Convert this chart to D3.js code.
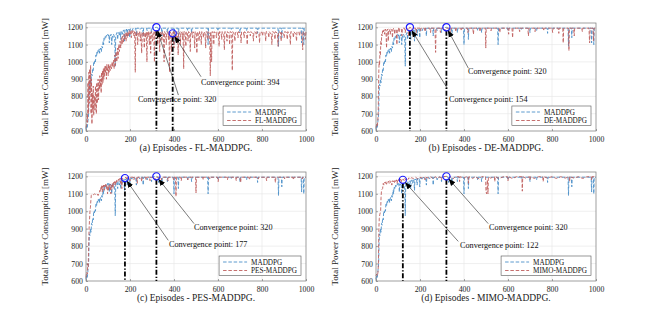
<!DOCTYPE html>
<html>
<head>
<meta charset="utf-8">
<script src="https://cdn.jsdelivr.net/npm/d3@7"></script>
<style>
  body { margin: 0; background: #fff; }
  text { font-family: "Liberation Serif", "Times New Roman", serif; }
</style>
</head>
<body>
<svg id="chart" width="659" height="315"></svg>
<script>
// episodes / total power [mW]
const xTicks = [0, 200, 400, 600, 800, 1000]
const yTicks = [600, 700, 800, 900, 1000, 1100, 1200]

const maddpg = [
  [0,610],[3,630],[6,620],[9,660],[12,700],[14,820],[16,870],[18,860],[20,900],[23,880],[25,930],[28,920],[30,960],[33,950],[35,1000],[38,990],[40,1010],[43,1000],[45,1040],[48,1030],[50,1060],[53,1050],[55,1070],[58,1060],[60,1075],[62,1050],[64,1070],[67,1080],[70,1060],[72,1090],[75,1080],[78,1120],[80,1100],[82,1140],[85,1130],[88,1150],[90,1140],[93,1155],[96,1150],[99,1160],[102,1150],[104,1160],[106,1110],[108,1155],[111,1150],[114,1160],[117,1100],[119,1150],[122,1140],[125,1160],[128,1150],[131,1120],[133,975],[135,1150],[138,1160],[141,1170],[144,1130],[146,1165],[149,1170],[152,1150],[155,1175],[158,1130],[160,1175],[163,1180],[166,1160],[169,1180],[172,1185],[175,1120],[177,1185],[180,1180],[184,1190],[187,1150],[189,1190],[193,1185],[196,1190],[199,1140],[201,1190],[205,1192],[210,1180],[214,1195],[220,1190],[226,1195],[229,1150],[231,1195],[240,1195],[245,1185],[250,1195],[258,1195],[260,1150],[262,1195],[275,1195],[278,1180],[280,1195],[295,1195],[298,1170],[300,1195],[320,1200],[328,1195],[330,1165],[332,1195],[343,1195],[345,1150],[347,1195],[368,1195],[370,1170],[372,1195],[398,1195],[400,1100],[402,1195],[418,1195],[420,1130],[422,1195],[460,1195],[462,1180],[464,1195],[478,1195],[480,1170],[482,1195],[553,1195],[555,1100],[557,1195],[598,1195],[600,1180],[602,1195],[658,1195],[660,1185],[662,1195],[698,1195],[700,1170],[702,1195],[728,1195],[730,1180],[732,1195],[778,1195],[780,1165],[782,1195],[873,1195],[875,1090],[877,1195],[888,1195],[890,1140],[892,1195],[978,1195],[980,1110],[982,1195],[988,1195],[990,1100],[992,1195],[1000,1195]
]

const flMaddpg = [
  [0,620],[3,640],[5,700],[7,650],[9,880],[11,700],[13,940],[15,760],[17,960],[19,820],[21,980],[23,700],[25,900],[27,640],[29,820],[31,720],[33,860],[35,690],[37,760],[39,800],[41,720],[43,860],[45,760],[47,700],[49,880],[51,760],[53,820],[55,900],[57,780],[59,880],[61,840],[63,920],[65,850],[67,900],[69,820],[71,940],[73,870],[75,950],[77,880],[79,960],[81,900],[83,970],[85,920],[87,975],[89,940],[91,980],[93,900],[95,985],[97,950],[99,970],[101,920],[103,990],[105,940],[107,975],[110,950],[113,985],[116,960],[119,1000],[122,970],[125,1010],[128,960],[131,1040],[134,980],[137,1060],[140,1000],[143,1080],[146,1020],[149,1100],[152,1060],[155,1120],[158,1080],[161,1140],[164,1100],[167,1150],[170,1110],[173,1160],[176,1130],[179,1165],[182,1120],[185,1170],[188,1140],[191,1175],[194,1150],[197,1180],[200,1160],[203,1180],[206,1140],[209,1185],[212,1170],[215,1180],[218,1150],[221,1175],[224,940],[226,1170],[229,1150],[232,1175],[235,1100],[238,1170],[241,1160],[244,1175],[247,1120],[250,1170],[253,1050],[256,1170],[259,1160],[262,1175],[265,1080],[268,1170],[271,1140],[274,1175],[277,1000],[279,1170],[282,1150],[285,1175],[288,1100],[291,1170],[294,1050],[296,1175],[299,1160],[302,1120],[305,1175],[308,1170],[311,1000],[313,1175],[316,1150],[320,1180],
  [323,1170],[326,1100],[328,1175],[332,1170],[335,1060],[337,1175],[342,1165],[345,1120],[347,1175],[352,1170],[355,1000],[357,1175],[362,1160],[365,1100],[367,1175],[372,1170],[375,1130],[377,1175],[380,940],[382,1175],[386,1160],[389,1060],[391,1170],[394,1165],[397,1175],[400,1080],[402,1175],[406,1170],[409,1120],[411,1175],[416,1160],[419,1040],[421,1175],[426,1170],[429,1100],[431,1175],[436,1165],[439,1130],[441,1175],[444,960],[446,1175],[451,1170],[454,1090],[456,1175],[461,1165],[464,1120],[466,1175],[471,1170],[474,1060],[476,1175],[481,1170],[484,1140],[486,1175],[491,1165],[494,1080],[496,1175],[501,1170],[504,1050],[506,1175],[511,1160],[514,1120],[516,1175],[521,1170],[524,1100],[526,1175],[531,1170],[534,1140],[536,1175],[541,1165],[544,1080],[546,1175],[551,1170],[554,1130],[556,1175],[562,1160],[565,920],[567,1175],[571,1000],[573,1175],[578,1170],[581,1100],[583,1175],[590,1165],[593,1140],[595,1175],[602,1170],[605,1090],[607,1175],[614,1170],[617,1130],[619,1175],[626,1160],[629,1070],[631,1175],[638,1170],[641,1120],[643,1175],[650,1165],[653,1100],[655,1175],[662,1170],[665,950],[667,1175],[674,1160],[677,1120],[679,1175],[688,1170],[691,1140],[693,1175],[702,1165],[705,1110],[707,1175],[716,1170],[719,1140],[721,1175],[730,1160],[733,1100],[735,1175],[744,1170],[747,1150],[749,1175],[758,1165],[761,1120],[763,1175],[772,1170],[775,1140],[777,1175],[786,1160],[789,1110],[791,1175],[800,1170],[803,1150],[805,1175],[814,1165],[817,1120],[819,1175],[828,1170],[831,1140],[833,1175],[842,1160],[845,1100],[847,1175],[856,1170],[859,1130],[861,1175],[870,1165],[873,1090],[875,1175],[884,1170],[887,1120],[889,1175],[898,1160],[901,1140],[903,1175],[912,1170],[915,1130],[917,1175],[926,1165],[929,1100],[931,1175],[940,1170],[943,1140],[945,1175],[954,1160],[957,1120],[959,1175],[968,1170],[971,1150],[973,1175],[982,1165],[985,1070],[987,1175],[994,1170],[997,1130],[1000,1175]
]

const deMaddpg = [
  [0,620],[3,640],[6,630],[8,660],[10,700],[12,900],[14,1000],[16,980],[18,1060],[20,1040],[22,1120],[24,1100],[26,1160],[28,1150],[30,1180],[33,1170],[36,1185],[39,1160],[42,1190],[45,1180],[48,1080],[50,1185],[53,1190],[56,1120],[58,1190],[62,1185],[65,1160],[67,1190],[72,1185],[75,1140],[77,1190],[82,1195],[85,1160],[87,1190],[92,1185],[95,1100],[97,1190],[102,1195],[105,1170],[107,1195],[115,1190],[118,1150],[120,1195],[130,1195],[133,1170],[135,1195],[145,1190],[148,1150],[150,1195],[154,1200],[160,1195],[163,1180],[165,1195],[180,1195],[183,1170],[185,1195],[200,1195],[203,1180],[205,1195],[220,1195],[223,1175],[225,1195],[245,1195],[248,1170],[250,1195],[268,1195],[271,1055],[273,1195],[290,1195],[293,1170],[295,1195],[310,1195],[313,1180],[315,1195],[335,1195],[338,1170],[340,1195],[360,1195],[363,1175],[365,1195],[385,1195],[388,1180],[390,1195],[415,1195],[418,1170],[420,1195],[440,1195],[443,1160],[445,1195],[470,1195],[473,1175],[475,1195],[497,1195],[499,1080],[501,1195],[520,1195],[523,1180],[525,1195],[560,1195],[563,1170],[565,1195],[600,1195],[603,1160],[605,1195],[618,1195],[621,1140],[623,1195],[650,1195],[653,1175],[655,1195],[690,1195],[693,1150],[695,1195],[720,1195],[723,1175],[725,1195],[760,1195],[763,1180],[765,1195],[800,1195],[803,1170],[805,1195],[828,1195],[831,1165],[833,1195],[849,1195],[851,1110],[853,1195],[875,1195],[877,1065],[879,1195],[898,1195],[901,1150],[903,1195],[935,1195],[938,1175],[940,1195],[968,1195],[971,1110],[973,1195],[986,1195],[989,1120],[991,1195],[1000,1195]
]

const pesMaddpg = [
  [0,620],[3,650],[6,640],[8,700],[10,680],[12,800],[14,900],[16,950],[18,1000],[20,1020],[22,1060],[24,1090],[26,1095],[30,1100],[35,1095],[40,1100],[45,1095],[50,1100],[55,1090],[60,1105],[63,1120],[66,1110],[68,1140],[70,1130],[72,1150],[74,1110],[76,1145],[78,1130],[80,1150],[83,1120],[85,1150],[88,1140],[90,1155],[93,1130],[95,1150],[98,1100],[100,1145],[103,1120],[105,1150],[108,1140],[110,1155],[113,1100],[115,1150],[118,1140],[120,1160],[123,1130],[125,1165],[128,1150],[130,1170],[133,1150],[135,1175],[138,1165],[140,1180],[145,1170],[148,1185],[152,1175],[155,1190],[158,1160],[160,1190],[163,1130],[165,1190],[170,1185],[174,1190],[177,1190],[182,1195],[186,1180],[188,1195],[198,1195],[201,1175],[203,1195],[215,1195],[218,1180],[220,1195],[230,1195],[233,1160],[235,1195],[250,1195],[253,1170],[255,1195],[270,1195],[273,1180],[275,1195],[288,1195],[291,1175],[293,1195],[310,1195],[313,1180],[315,1195],[340,1195],[343,1180],[345,1195],[370,1195],[373,1175],[375,1195],[395,1195],[398,1180],[400,1195],[407,1195],[409,1085],[411,1195],[430,1195],[433,1175],[435,1195],[460,1195],[463,1180],[465,1195],[498,1195],[500,1105],[502,1195],[530,1195],[533,1180],[535,1195],[560,1195],[563,1185],[565,1195],[598,1195],[601,1170],[603,1195],[640,1195],[643,1180],[645,1195],[680,1195],[683,1175],[685,1195],[700,1195],[703,1165],[705,1195],[740,1195],[743,1180],[745,1195],[780,1195],[783,1185],[785,1195],[818,1195],[821,1175],[823,1195],[858,1195],[861,1165],[863,1195],[900,1195],[903,1185],[905,1195],[940,1195],[943,1180],[945,1195],[980,1195],[983,1185],[985,1195],[1000,1195]
]

const mimoMaddpg = [
  [0,630],[3,640],[6,630],[9,650],[11,700],[13,900],[15,960],[17,980],[19,990],[21,1000],[23,1080],[25,1120],[27,1125],[30,1130],[33,1160],[36,1150],[39,1165],[42,1160],[45,1170],[48,1155],[51,1170],[54,1165],[57,1172],[60,1160],[63,1175],[66,1165],[69,1170],[72,1150],[75,1175],[78,1168],[81,1178],[84,1165],[87,1180],[90,1170],[93,1180],[96,1160],[99,1182],[102,1175],[105,1185],[108,1170],[111,1185],[114,1165],[117,1185],[120,1180],[122,1181],[125,1185],[128,1175],[131,1188],[135,1180],[140,1190],[145,1182],[150,1192],[155,1185],[160,1192],[170,1188],[180,1195],[190,1185],[200,1195],[210,1190],[220,1195],[223,1180],[225,1195],[240,1190],[250,1198],[260,1185],[270,1198],[280,1188],[290,1198],[298,1180],[300,1198],[320,1200],[330,1190],[340,1198],[350,1185],[360,1198],[378,1198],[380,1170],[382,1198],[400,1190],[410,1198],[418,1198],[420,1160],[422,1198],[440,1188],[450,1198],[470,1185],[480,1198],[498,1198],[500,1110],[503,1100],[506,1180],[509,1100],[511,1198],[520,1190],[538,1198],[540,1170],[542,1198],[560,1188],[580,1198],[598,1198],[600,1175],[602,1198],[620,1188],[640,1198],[663,1198],[665,1115],[667,1198],[680,1190],[698,1198],[700,1180],[702,1198],[720,1188],[740,1198],[758,1198],[760,1170],[762,1198],[780,1190],[800,1198],[820,1188],[840,1198],[860,1190],[878,1198],[880,1170],[882,1198],[900,1190],[920,1198],[940,1188],[960,1198],[978,1198],[980,1180],[982,1198],[1000,1198]
]

// convergence points [episode, power]
const convA = [[320, 1200], [394, 1165]]
const convB = [[154, 1200], [320, 1200]]
const convC = [[177, 1190], [320, 1200]]
const convD = [[122, 1180], [320, 1200]]

// where each callout's arrow tail and text sit, in data units
const calloutA = [{ tail: [420, 808], text: [236, 785] }, { tail: [523, 914], text: [523, 885] }]
const calloutB = [{ tail: [324, 847], text: [332, 787] }, { tail: [420, 963], text: [418, 947] }]
const calloutC = [{ tail: [374, 833], text: [377, 809] }, { tail: [491, 929], text: [491, 910] }]
const calloutD = [{ tail: [374, 827], text: [382, 807] }, { tail: [510, 929], text: [514, 910] }]

const blue = '#4a8ec8'
const red = '#c0605f'
const dash = '3.5,1.8'

const panels = [
  { title: '(a) Episodes - FL-MADDPG.', name: 'FL-MADDPG', data: flMaddpg, conv: convA, callout: calloutA, x: 86, y: 23, w: 220, h: 108 },
  { title: '(b) Episodes - DE-MADDPG.', name: 'DE-MADDPG', data: deMaddpg, conv: convB, callout: calloutB, x: 376, y: 23, w: 220, h: 108 },
  { title: '(c) Episodes - PES-MADDPG.', name: 'PES-MADDPG', data: pesMaddpg, conv: convC, callout: calloutC, x: 86, y: 172, w: 220, h: 109 },
  { title: '(d) Episodes - MIMO-MADDPG.', name: 'MIMO-MADDPG', data: mimoMaddpg, conv: convD, callout: calloutD, x: 376, y: 172, w: 220, h: 109 }
]

const svg = d3.select('#chart')

svg.append('defs').append('marker')
  .attr('id', 'head')
  .attr('viewBox', '0 0 10 10')
  .attr('refX', 9).attr('refY', 5)
  .attr('markerWidth', 7).attr('markerHeight', 7)
  .attr('markerUnits', 'userSpaceOnUse')
  .attr('orient', 'auto')
  .append('path')
  .attr('d', 'M0,1 L10,5 L0,9 Z')
  .attr('fill', '#000')

panels.forEach(p => {
  const x = d3.scaleLinear().domain([0, 1000]).range([0, p.w])
  const y = d3.scaleLinear().domain([600, 1225]).range([p.h, 0])
  const g = svg.append('g').attr('transform', `translate(${p.x},${p.y})`)

  // grid
  g.append('g').selectAll('line').data(xTicks.slice(1, -1)).join('line')
    .attr('x1', d => x(d)).attr('x2', d => x(d)).attr('y1', 0).attr('y2', p.h)
    .attr('stroke', '#e4e4e4').attr('stroke-width', 0.6)
  g.append('g').selectAll('line').data(yTicks.slice(1)).join('line')
    .attr('y1', d => y(d)).attr('y2', d => y(d)).attr('x1', 0).attr('x2', p.w)
    .attr('stroke', '#e4e4e4').attr('stroke-width', 0.6)

  const line = d3.line().x(d => x(d[0])).y(d => y(d[1]))

  g.append('path').datum(maddpg)
    .attr('d', line).attr('fill', 'none')
    .attr('stroke', blue).attr('stroke-width', 0.9).attr('stroke-dasharray', dash)
  g.append('path').datum(p.data)
    .attr('d', line).attr('fill', 'none')
    .attr('stroke', red).attr('stroke-width', 0.9).attr('stroke-dasharray', dash)

  // axes
  const xAxis = g.append('g').attr('transform', `translate(0,${p.h})`)
    .call(d3.axisBottom(x).tickValues(xTicks).tickFormat(d3.format('d')).tickSize(-2).tickPadding(5))
  const yAxis = g.append('g')
    .call(d3.axisLeft(y).tickValues(yTicks).tickFormat(d3.format('d')).tickSize(-2).tickPadding(3))
  ;[xAxis, yAxis].forEach(a => {
    a.attr('font-family', null)
    a.select('.domain').remove()
    a.selectAll('line').attr('stroke', '#555').attr('stroke-width', 0.5)
    a.selectAll('text').style('font-family', '"Liberation Serif", serif')
      .attr('font-size', 7.8).attr('fill', '#222')
  })

  g.append('rect').attr('width', p.w).attr('height', p.h)
    .attr('fill', 'none').attr('stroke', '#777').attr('stroke-width', 0.7)

  // convergence markers
  p.conv.forEach((c, i) => {
    const cx = x(c[0])
    const cy = y(c[1])
    g.append('line')
      .attr('x1', cx).attr('x2', cx).attr('y1', cy + 3.5).attr('y2', p.h)
      .attr('stroke', '#000').attr('stroke-width', 1.8)
      .attr('stroke-dasharray', '5,1.8,1.4,1.8')
    g.append('circle').attr('cx', cx).attr('cy', cy).attr('r', 3.6)
      .attr('fill', 'none').attr('stroke', '#1a1aff').attr('stroke-width', 1.2)

    const co = p.callout[i]
    const tx = x(co.tail[0])
    const ty = y(co.tail[1])
    const dx = cx - tx
    const dy = cy - ty
    const len = Math.hypot(dx, dy)
    const k = (len - 4) / len
    g.append('line')
      .attr('x1', tx).attr('y1', ty)
      .attr('x2', tx + dx * k).attr('y2', ty + dy * k)
      .attr('stroke', '#222').attr('stroke-width', 0.6)
      .attr('marker-end', 'url(#head)')
    g.append('text')
      .attr('x', x(co.text[0])).attr('y', y(co.text[1])).attr('dy', '0.35em')
      .attr('font-size', 8.2).attr('fill', '#111')
      .text(`Convergence point: ${c[0]}`)
  })

  // legend
  const lg = g.append('g')
  const names = ['MADDPG', p.name]
  const cols = [blue, red]
  const texts = lg.selectAll('text').data(names).join('text')
    .attr('y', (d, i) => 6 + i * 8.5).attr('dy', '0.35em')
    .attr('font-size', 7.2).attr('fill', '#111')
    .text(d => d)
  const tw = d3.max(texts.nodes(), n => n.getComputedTextLength())
  const bw = 4 + 24 + 4 + tw + 4
  const bx = p.w - 5 - bw
  const by = p.h - 25
  lg.attr('transform', `translate(${bx},${by})`)
  lg.insert('rect', 'text').attr('width', bw).attr('height', 19.5)
    .attr('fill', '#fff').attr('stroke', '#555').attr('stroke-width', 0.6)
  texts.attr('x', 32)
  lg.selectAll('line.key').data(cols).join('line').attr('class', 'key')
    .attr('x1', 4).attr('x2', 28)
    .attr('y1', (d, i) => 6 + i * 8.5).attr('y2', (d, i) => 6 + i * 8.5)
    .attr('stroke', d => d).attr('stroke-width', 0.9).attr('stroke-dasharray', dash)

  // labels
  svg.append('text')
    .attr('transform', `translate(${p.x - 38},${p.y + p.h / 2}) rotate(-90)`)
    .attr('text-anchor', 'middle').attr('font-size', 9).attr('fill', '#222')
    .text('Total Power Consumption [mW]')
  svg.append('text')
    .attr('x', p.x + p.w / 2).attr('y', p.y + p.h + 20)
    .attr('text-anchor', 'middle').attr('font-size', 9.5).attr('fill', '#222')
    .text(p.title)
})
</script>
</body>
</html>
